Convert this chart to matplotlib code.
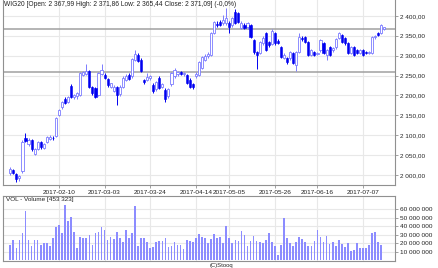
import numpy as np
import pandas as pd
import matplotlib
matplotlib.use("Agg")
import matplotlib.pyplot as plt
from matplotlib.ticker import FuncFormatter, FixedLocator

plt.rcParams['font.family'] = ['Liberation Sans', 'DejaVu Sans']

# trading days (WSE holidays removed)
holidays = ['2017-04-14', '2017-04-17', '2017-05-01', '2017-05-03', '2017-06-15']
days = pd.bdate_range('2017-01-19', '2017-07-18')
days = days[~days.isin(pd.to_datetime(holidays))]

opens = [2005, 2013, 2003, 1992, 2010, 2092, 2078, 2088, 2053, 2065,
         2082, 2068, 2083, 2090, 2094, 2098, 2150, 2170, 2190, 2184,
         2224, 2195, 2198, 2201, 2252, 2255, 2262, 2220, 2219, 2201,
         2255, 2252, 2242, 2222, 2212, 2220, 2203, 2222, 2238, 2252,
         2248, 2290, 2302, 2290, 2238, 2240, 2245, 2225, 2216, 2245,
         2222, 2214, 2198, 2228, 2248, 2255, 2258, 2254, 2252, 2240,
         2228, 2248, 2252, 2270, 2290, 2298, 2302, 2357, 2380, 2385,
         2382, 2382, 2382, 2377, 2410, 2408, 2370, 2377, 2372, 2377,
         2340, 2309, 2307, 2332, 2357, 2335, 2330, 2357, 2337, 2322,
         2295, 2294, 2294, 2307, 2277, 2310, 2345, 2347, 2335, 2302,
         2309, 2305, 2314, 2332, 2302, 2322, 2314, 2322, 2345, 2352,
         2345, 2332, 2307, 2322, 2314, 2307, 2314, 2309, 2307, 2307,
         2347, 2357, 2357, 2367.99]
highs = [2019, 2016, 2005, 2001, 2088, 2105, 2092, 2091, 2068, 2086,
         2086, 2081, 2099, 2100, 2097, 2146, 2166, 2187, 2195, 2199,
         2228, 2203, 2208, 2260, 2262, 2278, 2265, 2224, 2222, 2260,
         2280, 2256, 2245, 2232, 2226, 2224, 2226, 2248, 2254, 2256,
         2295, 2315, 2306, 2293, 2242, 2257, 2252, 2230, 2236, 2248,
         2231, 2218, 2218, 2259, 2268, 2262, 2262, 2259, 2255, 2243,
         2232, 2258, 2287, 2300, 2304, 2309, 2360, 2388, 2386, 2390,
         2403, 2420, 2386, 2398, 2418, 2411, 2386, 2381, 2385, 2380,
         2343, 2312, 2338, 2349, 2360, 2338, 2367, 2360, 2341, 2325,
         2306, 2297, 2312, 2310, 2312, 2357, 2350, 2350, 2338, 2318,
         2312, 2310, 2343, 2335, 2317, 2325, 2322, 2345, 2360, 2355,
         2348, 2335, 2325, 2325, 2317, 2318, 2317, 2312, 2312, 2350,
         2353, 2360, 2380, 2371.86]
lows = [2001, 2003, 1982, 1985, 2005, 2082, 2074, 2060, 2050, 2062,
        2066, 2064, 2080, 2087, 2088, 2095, 2147, 2166, 2178, 2180,
        2193, 2190, 2192, 2198, 2249, 2252, 2218, 2202, 2193, 2198,
        2252, 2242, 2222, 2218, 2208, 2176, 2198, 2218, 2235, 2239,
        2245, 2286, 2284, 2259, 2228, 2236, 2240, 2206, 2212, 2215,
        2218, 2183, 2194, 2224, 2245, 2250, 2251, 2250, 2229, 2218,
        2215, 2244, 2249, 2266, 2286, 2294, 2300, 2354, 2372, 2374,
        2378, 2378, 2357, 2373, 2379, 2381, 2366, 2366, 2368, 2344,
        2305, 2267, 2303, 2328, 2311, 2323, 2326, 2328, 2329, 2293,
        2291, 2280, 2290, 2278, 2262, 2306, 2338, 2331, 2298, 2298,
        2298, 2301, 2310, 2303, 2289, 2298, 2310, 2318, 2341, 2331,
        2328, 2303, 2303, 2298, 2303, 2303, 2298, 2304, 2304, 2304,
        2343, 2349, 2354, 2365.44]
closes = [2015, 2006, 1990, 1998, 2083, 2085, 2088, 2065, 2065, 2082,
          2070, 2078, 2095, 2096, 2092, 2143, 2163, 2184, 2182, 2197,
          2197, 2200, 2205, 2257, 2258, 2262, 2222, 2205, 2196, 2257,
          2265, 2245, 2225, 2230, 2222, 2200, 2222, 2245, 2250, 2242,
          2292, 2304, 2287, 2262, 2233, 2246, 2248, 2210, 2233, 2219,
          2228, 2192, 2215, 2256, 2265, 2258, 2255, 2256, 2232, 2222,
          2220, 2255, 2284, 2297, 2300, 2305, 2357, 2385, 2377, 2377,
          2390, 2395, 2372, 2395, 2382, 2385, 2382, 2370, 2382, 2347,
          2309, 2302, 2335, 2345, 2314, 2327, 2362, 2332, 2333, 2297,
          2302, 2284, 2309, 2282, 2309, 2347, 2342, 2335, 2302, 2314,
          2302, 2307, 2340, 2307, 2314, 2302, 2319, 2342, 2357, 2335,
          2332, 2307, 2322, 2302, 2307, 2314, 2302, 2307, 2309, 2347,
          2350, 2352, 2377, 2371.09]
volumes_m = [17.9, 23.8, 14, 24, 31.7, 58, 24, 17, 24, 24,
             18, 20, 20, 17, 25.8, 39.5, 41.5, 31.7, 65, 46.6,
             50.6, 33.6, 14.7, 27.7, 26.5, 26.5, 29.7, 18, 32.4, 33.6,
             39.5, 35.6, 24, 27.7, 25, 33.6, 25.8, 21, 35.6, 26.5,
             31.7, 64, 17, 25.8, 25.8, 21.8, 14, 16, 21.8, 22.6,
             22.6, 25.8, 16, 17, 21, 18, 18, 13.2, 24, 22.6,
             21.8, 26.5, 31, 27, 25.8, 20, 25, 31, 25.8, 27.7,
             20, 40.3, 26.5, 20, 24, 23, 34.8, 29.7, 16.5, 23,
             29, 23, 21, 20, 24, 32.4, 22, 16.5, 6, 18,
             49.4, 25.8, 20, 16.5, 21, 27.7, 24.8, 21, 16.5, 16.5,
             23, 35.6, 27, 21, 28.5, 19, 21.8, 16.5, 24, 19,
             16, 20, 11.2, 12, 20, 14, 14, 14, 17.4, 31.7,
             33, 21.8, 18, 0.453323]

tick_dates = ['2017-02-10', '2017-03-03', '2017-03-24', '2017-04-14',
              '2017-05-05', '2017-05-26', '2017-06-16', '2017-07-07']
levels = [2366, 2258]

n = len(closes)
x = np.arange(n)
o = np.array(opens); c = np.array(closes)
h = np.array(highs); l = np.array(lows)
up = c >= o

tick_pos = [int(days.searchsorted(pd.Timestamp(d))) for d in tick_dates]

def pl_num(v, dec):
    s = f"{v:,.{dec}f}"
    return s.replace(",", " ").replace(".", ",")

fig = plt.figure(figsize=(4.39, 2.68), dpi=100)
ax = fig.add_axes([0.0068, 0.308, 0.893, 0.692])
axv = fig.add_axes([0.0068, 0.026, 0.893, 0.243])

grid_c = '#e8e8e8'
light = '#7b7bff'
dark = '#0000f0'

for a in (ax, axv):
    a.set_xlim(-2.4, 126.5)
    a.xaxis.set_major_locator(FixedLocator(tick_pos))
    a.grid(True, color=grid_c, lw=0.8)
    a.set_axisbelow(True)
    a.yaxis.tick_right()
    for s in a.spines.values():
        s.set_color('#909090')
        s.set_linewidth(0.8)
    a.spines['top'].set_visible(False)
    a.tick_params(colors='#909090', labelcolor='#222222', length=2,
                  width=0.6, labelsize=4.6, pad=1.5)

# candles
wcol = np.where(up, light, dark)
ax.vlines(x, l, h, colors=wcol, lw=0.7, zorder=2)
ax.bar(x[up], c[up] - o[up], bottom=o[up], width=0.7,
       facecolor='white', edgecolor=light, linewidth=0.6, zorder=3)
ax.bar(x[~up], o[~up] - c[~up], bottom=c[~up], width=0.7,
       facecolor=dark, edgecolor=dark, linewidth=0.4, zorder=3)
for lv in levels:
    ax.axhline(lv, color='#a0a0a0', lw=1.1, zorder=1)

ax.set_ylim(1973.5, 2440)
ax.set_yticks(np.arange(2000, 2401, 50))
ax.yaxis.set_major_formatter(FuncFormatter(lambda v, p: pl_num(v, 2)))
ax.set_xticklabels(tick_dates)
ax.text(0.003, 0.995, "WIG20 [Open: 2 367,99 High: 2 371,86 Low: 2 365,44 "
        "Close: 2 371,09] (-0,0%)", transform=ax.transAxes, ha='left',
        va='top', fontsize=4.8, color='#222222')

# volume
axv.bar(x, np.array(volumes_m) * 1e6, width=0.55, color='#8c8cff', lw=0)
axv.set_ylim(-1e6, 75.7e6)
axv.set_yticks(np.arange(10e6, 60.1e6, 10e6))
axv.yaxis.set_major_formatter(FuncFormatter(lambda v, p: pl_num(v, 0)))
axv.set_xticklabels([])
axv.tick_params(axis='x', length=0)
axv.spines['top'].set_visible(True)
axv.text(0.008, 0.985, "VOL - Volume [453 323]", transform=axv.transAxes,
         ha='left', va='top', fontsize=4.6, color='#222222')

fig.text(0.478, 0.001, "(C)Stooq", ha='left', va='bottom', fontsize=4.2,
         color='#222222')

fig.savefig("out.png", dpi=100)
